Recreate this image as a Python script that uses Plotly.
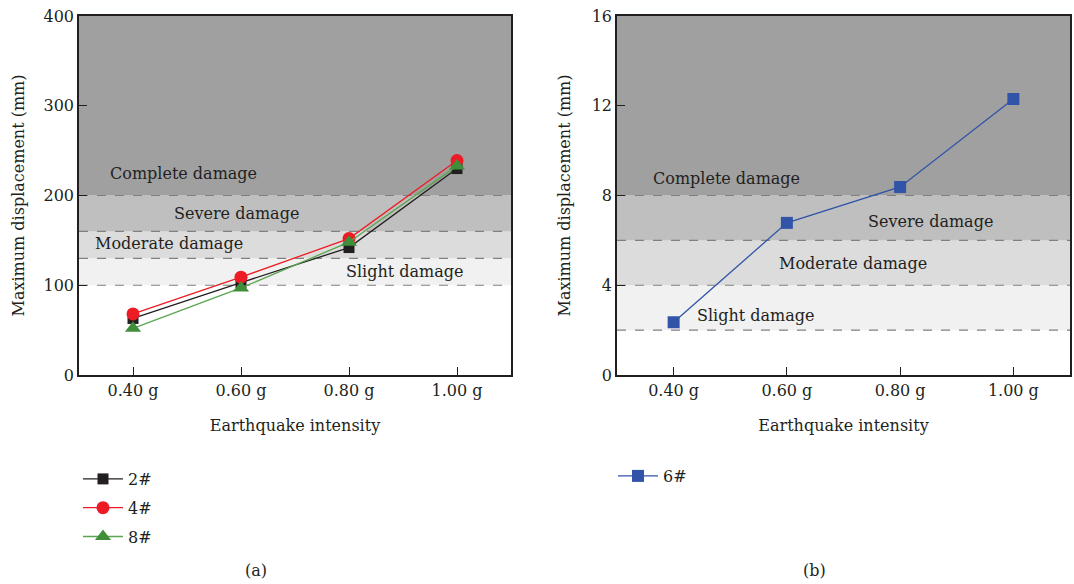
import plotly.graph_objects as go

intensity = [0.4, 0.6, 0.8, 1.0]
tick_labels = ["0.40 g", "0.60 g", "0.80 g", "1.00 g"]

s2 = [63, 103, 142, 230]
s4 = [68, 109, 152, 239]
s8 = [52, 97, 148, 233]
s6 = [2.35, 6.78, 8.38, 12.3]

# damage bands: limits
bands_a = [100, 130, 160, 200, 400]
bands_b = [2, 4, 6, 8, 16]
band_names = ["Slight damage", "Moderate damage", "Severe damage", "Complete damage"]
band_colors = ["#f0f1f0", "#dcdcdc", "#bfbfbf", "#a0a0a0"]

FONT = "DejaVu Serif"
FS = 16
TXT = "#231f20"
fig = go.Figure()

fig.add_trace(go.Scatter(x=intensity, y=s2, name="2#", mode="lines+markers", legendgroup="g2",
                         line=dict(color="#231f20", width=1.3),
                         marker=dict(symbol="square", size=11, color="#231f20"),
                         xaxis="x", yaxis="y", legend="legend"))
fig.add_trace(go.Scatter(x=intensity, y=s4, name="4#", mode="lines+markers", legendgroup="g4",
                         line=dict(color="#ed1c24", width=1.3),
                         marker=dict(symbol="circle", size=13, color="#ed1c24"),
                         xaxis="x", yaxis="y", legend="legend"))
fig.add_trace(go.Scatter(x=intensity, y=s8, name="8#", mode="lines+markers", legendgroup="g8",
                         line=dict(color="#5aa550", width=1.3),
                         marker=dict(symbol="triangle-up", size=14, color="#3f8f3a"),
                         xaxis="x", yaxis="y", legend="legend"))
fig.add_trace(go.Scatter(x=intensity, y=s6, name="6#", mode="lines+markers", legendgroup="g6",
                         line=dict(color="#3153a8", width=1.3),
                         marker=dict(symbol="square", size=12, color="#3153a8"),
                         xaxis="x2", yaxis="y2", legend="legend2"))

shapes = []
for (xr, yr, lims) in [("x", "y", bands_a), ("x2", "y2", bands_b)]:
    for i in range(4):
        shapes.append(dict(type="rect", xref=xr + " domain", yref=yr, x0=0, x1=1,
                           y0=lims[i], y1=lims[i + 1], fillcolor=band_colors[i],
                           line=dict(width=0), layer="below"))
    for i in range(4):
        shapes.append(dict(type="line", xref=xr + " domain", yref=yr, x0=0, x1=1,
                           y0=lims[i], y1=lims[i], line=dict(color="#808080", width=1.2, dash="dash"),
                           layer="below"))

annotations = []
# label positions, in band_names order (Slight, Moderate, Severe, Complete)
pos_a = [(0.902, 115), (0.467, 146), (0.591, 180), (0.493, 224)]
pos_b = [(0.544, 2.67), (0.717, 4.99), (0.853, 6.86), (0.4925, 8.78)]
for i in range(4):
    annotations.append(dict(x=pos_a[i][0], y=pos_a[i][1], xref="x", yref="y", text=band_names[i],
                            showarrow=False, font=dict(family=FONT, size=FS, color=TXT)))
    annotations.append(dict(x=pos_b[i][0], y=pos_b[i][1], xref="x2", yref="y2", text=band_names[i],
                            showarrow=False, font=dict(family=FONT, size=FS, color=TXT)))
annotations.append(dict(x=243 / 1074, y=1 - 570 / 584, xref="paper", yref="paper", text="(a)",
                        yanchor="middle", showarrow=False, font=dict(family=FONT, size=FS, color=TXT)))
annotations.append(dict(x=828 / 1074, y=1 - 570 / 584, xref="paper", yref="paper", text="(b)",
                        yanchor="middle", showarrow=False, font=dict(family=FONT, size=FS, color=TXT)))

axis_common = dict(showgrid=False, zeroline=False, showline=True, linecolor=TXT, linewidth=1.5,
                   mirror=True, ticks="inside", ticklen=8, tickcolor=TXT, automargin=False,
                   tickfont=dict(family=FONT, size=FS, color=TXT))

fig.update_layout(
    width=1074, height=584,
    margin=dict(l=0, r=0, t=0, b=0),
    paper_bgcolor="white", plot_bgcolor="white",
    font=dict(family=FONT, size=FS, color=TXT),
    xaxis=dict(domain=[79 / 1074, 511 / 1074], range=[0.3, 1.1], tickvals=intensity, ticktext=tick_labels,
               title=dict(text="Earthquake intensity", font=dict(family=FONT, size=FS), standoff=21),
               anchor="y", **axis_common),
    yaxis=dict(domain=[1 - 375 / 584, 1 - 16 / 584], range=[0, 400], tickvals=[0, 100, 200, 300, 400],
               title=dict(text="Maximum displacement (mm)", font=dict(family=FONT, size=FS), standoff=15),
               anchor="x", **axis_common),
    xaxis2=dict(domain=[617 / 1074, 1070 / 1074], range=[0.3, 1.1], tickvals=intensity, ticktext=tick_labels,
                title=dict(text="Earthquake intensity", font=dict(family=FONT, size=FS), standoff=21),
                anchor="y2", **axis_common),
    yaxis2=dict(domain=[1 - 375 / 584, 1 - 16 / 584], range=[0, 16], tickvals=[0, 4, 8, 12, 16],
                title=dict(text="Maximum displacement (mm)", font=dict(family=FONT, size=FS), standoff=17),
                anchor="x2", **axis_common),
    legend=dict(x=78 / 1074, y=1 - 462 / 584, xanchor="left", yanchor="top", bgcolor="rgba(0,0,0,0)",
                font=dict(family=FONT, size=FS), itemwidth=40, tracegroupgap=5),
    legend2=dict(x=613 / 1074, y=1 - 459 / 584, xanchor="left", yanchor="top", bgcolor="rgba(0,0,0,0)",
                 font=dict(family=FONT, size=FS), itemwidth=40),
    shapes=shapes, annotations=annotations, showlegend=True,
)

fig.write_html("out.html")
